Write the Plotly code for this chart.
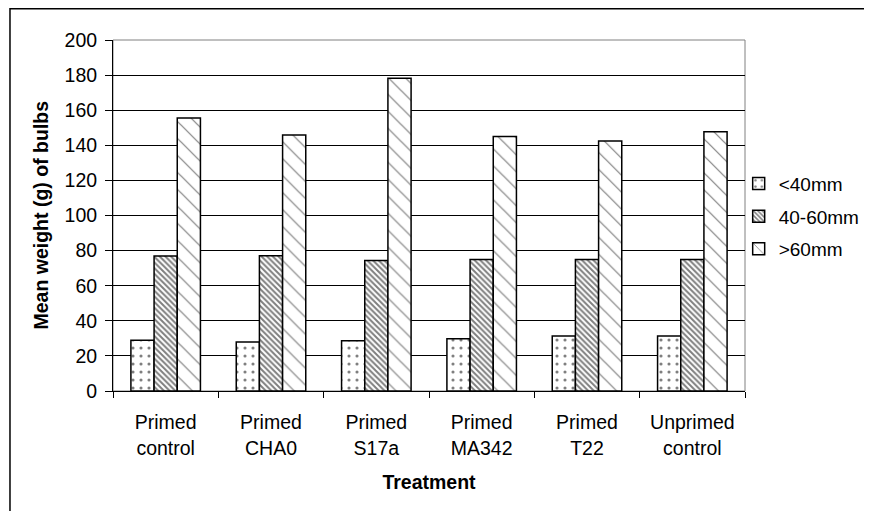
import plotly.graph_objects as go

treatments = ["Primed<br>control", "Primed<br>CHA0", "Primed<br>S17a",
              "Primed<br>MA342", "Primed<br>T22", "Unprimed<br>control"]

small = [28.9, 27.9, 28.7, 29.8, 31.3, 31.3]      # <40mm
medium = [76.9, 77.0, 74.4, 75.0, 75.0, 75.0]     # 40-60mm
large = [155.5, 145.9, 178.2, 145.0, 142.5, 147.7]  # >60mm

font = "Liberation Sans, Arial, sans-serif"
fs = 19.5

fig = go.Figure()

fig.add_trace(go.Bar(
    x=treatments, y=small, name="<40mm", legendgroup="a",
    marker=dict(color="white", line=dict(color="black", width=1.5),
                pattern=dict(shape=".", fgcolor="black", bgcolor="white",
                             size=8, solidity=0.12))
))
fig.add_trace(go.Bar(
    x=treatments, y=medium, name="40-60mm", legendgroup="b",
    marker=dict(color="white", line=dict(color="black", width=1.5),
                pattern=dict(shape="\\", fgcolor="black", bgcolor="white",
                             size=4, solidity=0.5))
))
fig.add_trace(go.Bar(
    x=treatments, y=large, name=">60mm", legendgroup="c",
    marker=dict(color="white", line=dict(color="black", width=1.5),
                pattern=dict(shape="\\", fgcolor="black", bgcolor="white",
                             size=12, solidity=0.1))
))

# page body adds 8px offset, so the figure is 8px smaller than the window
fig.update_layout(
    width=864, height=503,
    margin=dict(l=105, r=127, t=32, b=120, autoexpand=False),
    paper_bgcolor="white", plot_bgcolor="white",
    font=dict(family=font, size=fs, color="black"),
    barmode="group", bargap=0.34, bargroupgap=0,
    showlegend=True,
    legend=dict(x=0.99, y=0.645, xanchor="left", yanchor="top",
                font=dict(size=19), bgcolor="rgba(0,0,0,0)",
                tracegroupgap=5),
)

fig.update_xaxes(
    title=dict(text="<b>Treatment</b>", font=dict(size=fs), standoff=17),
    showline=True, linecolor="black", linewidth=1,
    ticks="outside", ticklen=6, tickcolor="black", tickson="boundaries",
    ticklabelstandoff=14,
    tickfont=dict(size=fs), showgrid=False,
)
fig.update_yaxes(
    range=[0, 200], dtick=20,
    showline=True, linecolor="black", linewidth=1,
    ticks="outside", ticklen=7, tickcolor="black",
    ticklabelstandoff=4,
    tickfont=dict(size=fs),
    showgrid=True, gridcolor="black", gridwidth=1,
    zeroline=False,
)

# y axis title
fig.add_annotation(text="<b>Mean weight (g) of bulbs</b>", textangle=-90,
                   xref="paper", yref="paper", x=-0.1155, y=0.5,
                   xanchor="center", yanchor="middle", showarrow=False,
                   font=dict(size=fs))

# plot area border (gray) and the chart frame
fig.add_shape(type="rect", xref="paper", yref="paper", x0=0, y0=0, x1=1, y1=1,
              line=dict(color="#808080", width=1), layer="below")
fig.add_shape(type="rect", xref="paper", yref="paper",
              x0=-0.163, y0=-0.5, x1=1.3, y1=1.089,
              line=dict(color="black", width=1.5))

fig.write_html("out.html")
